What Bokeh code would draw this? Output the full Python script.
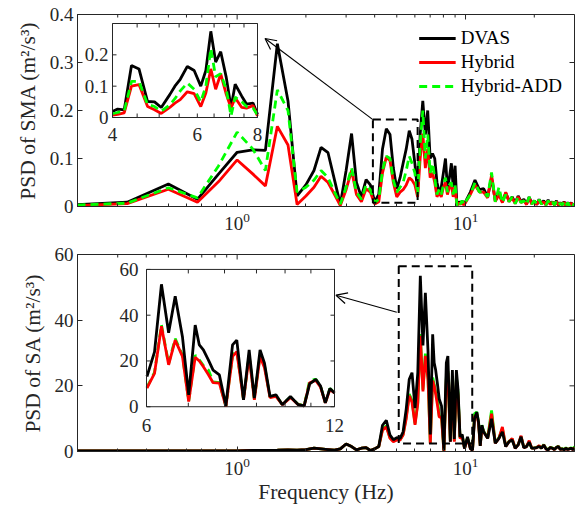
import math
from bokeh.plotting import figure
from bokeh.layouts import column
from bokeh.models import (Range1d, LogScale, LinearScale, FixedTicker, Legend, LegendItem,
                          Arrow, OpenHead)
from bokeh.core.properties import value
from bokeh.embed import file_html
from bokeh.resources import INLINE

# ---------------- data ----------------
freq_lim = [0.2, 30]
decade_ticks = [1, 10]
minor_freq_ticks = [0.2, 0.3, 0.4, 0.5, 0.6, 0.7, 0.8, 0.9, 2, 3, 4, 5, 6, 7, 8, 9, 20, 30]

# PSD of SMA (upper panel)
sma_freq = ([0.2, 0.33, 0.5, 0.67, 0.83, 1.0, 1.17, 1.33, 1.5, 1.67, 1.83, 2.0, 2.17, 2.33, 2.5,
             2.67, 2.83, 3.0, 3.17, 3.33, 3.5, 3.67, 3.83]
            + [4.0, 4.17, 4.33, 4.5, 4.67, 4.83, 5.0, 5.17, 5.33, 5.5, 5.67, 5.83, 6.0, 6.17, 6.33,
               6.5, 6.67, 6.83, 7.0, 7.17, 7.33, 7.5, 7.67, 7.83, 8.0, 8.17, 8.33, 8.5, 8.67, 8.83,
               9.0, 9.17, 9.33, 9.5, 9.67, 9.83, 10.0]
            + [10.5, 11.0, 11.5, 12.0, 12.5, 13.0, 13.5, 14.0, 14.5, 15.0, 15.5, 16.0, 16.5, 17.0,
               17.5, 18.0, 18.5, 19.0, 19.5, 20.0, 20.5, 21.0, 21.5, 22.0, 22.5, 23.0, 23.5, 24.0,
               24.5, 25.0, 25.5, 26.0, 26.5, 27.0, 27.5, 28.0, 28.5, 29.0, 29.5, 30.0])
sma_dvas = ([0.004, 0.009, 0.047, 0.015, 0.068, 0.113, 0.118, 0.117, 0.339, 0.22, 0.022, 0.045,
             0.075, 0.123, 0.112, 0.055, 0.004, 0.075, 0.152, 0.05, 0.02, 0.056, 0.045]
            + [0.01, 0.025, 0.12, 0.162, 0.15, 0.08, 0.037, 0.06, 0.09, 0.12, 0.158, 0.14, 0.09,
               0.03, 0.15, 0.22, 0.15, 0.2, 0.1, 0.11, 0.1, 0.05, 0.03, 0.04, 0.07, 0.1, 0.04, 0.06,
               0.09, 0.04, 0.085, 0.003, 0.01, 0.005, 0.012, 0.004, 0.01]
            + [0.03, 0.055, 0.035, 0.037, 0.02, 0.06, 0.012, 0.03, 0.01, 0.028,
               0.012, 0.02, 0.008, 0.022, 0.01, 0.015, 0.005, 0.02, 0.006, 0.012,
               0.004, 0.015, 0.006, 0.012, 0.004, 0.014, 0.005, 0.01, 0.004, 0.012,
               0.003, 0.008, 0.004, 0.01, 0.003, 0.008, 0.003, 0.008, 0.002, 0.006])
sma_hybrid = ([0.002, 0.006, 0.036, 0.009, 0.052, 0.097, 0.068, 0.043, 0.167, 0.128, 0.004, 0.022,
               0.04, 0.063, 0.05, 0.025, 0.002, 0.035, 0.075, 0.025, 0.01, 0.037, 0.03]
              + [0.005, 0.01, 0.07, 0.103, 0.095, 0.05, 0.02, 0.03, 0.035, 0.045,
                 0.06, 0.055, 0.045, 0.02, 0.1, 0.152, 0.08, 0.12, 0.06, 0.07,
                 0.05, 0.02, 0.03, 0.02, 0.04, 0.05, 0.025, 0.04, 0.045, 0.02,
                 0.04, 0.002, 0.008, 0.004, 0.01, 0.003, 0.008]
              + [0.025, 0.045, 0.03, 0.03, 0.018, 0.065, 0.01, 0.025, 0.008, 0.03,
                 0.01, 0.018, 0.006, 0.02, 0.008, 0.012, 0.004, 0.018, 0.005, 0.01,
                 0.004, 0.013, 0.005, 0.01, 0.003, 0.012, 0.004, 0.009, 0.003, 0.01,
                 0.003, 0.007, 0.003, 0.009, 0.002, 0.007, 0.002, 0.007, 0.002, 0.005])
sma_hybrid_add = ([0.003, 0.007, 0.039, 0.018, 0.085, 0.155, 0.12, 0.075, 0.243, 0.2, 0.03, 0.04,
                   0.055, 0.075, 0.06, 0.03, 0.005, 0.04, 0.08, 0.03, 0.015, 0.045, 0.035]
                  + [0.008, 0.015, 0.075, 0.105, 0.1, 0.055, 0.03, 0.04, 0.05, 0.075,
                     0.105, 0.09, 0.07, 0.025, 0.13, 0.2, 0.1, 0.15, 0.07, 0.09,
                     0.06, 0.025, 0.035, 0.025, 0.045, 0.06, 0.03, 0.045, 0.05, 0.025,
                     0.045, 0.002, 0.01, 0.005, 0.012, 0.004, 0.01]
                  + [0.025, 0.05, 0.03, 0.032, 0.02, 0.071, 0.01, 0.04, 0.008, 0.025,
                     0.01, 0.02, 0.006, 0.02, 0.008, 0.012, 0.004, 0.02, 0.005, 0.012,
                     0.004, 0.014, 0.005, 0.01, 0.003, 0.012, 0.004, 0.009, 0.003, 0.011,
                     0.003, 0.007, 0.003, 0.01, 0.002, 0.008, 0.002, 0.008, 0.002, 0.006])

# finer SMA spectrum shown in the 4-8 Hz zoom
sma_zoom_freq = [4.0, 4.1, 4.23, 4.38, 4.54, 4.73, 4.89, 5.05, 5.26, 5.39, 5.53, 5.72, 5.91,
                 6.10, 6.25, 6.40, 6.55, 6.71, 6.89, 7.05, 7.19, 7.42, 7.59, 7.83, 8.0]
sma_zoom_dvas = [0.019, 0.027, 0.024, 0.166, 0.155, 0.051, 0.050, 0.032, 0.073, 0.10, 0.122,
                 0.163, 0.150, 0.10, 0.15, 0.275, 0.177, 0.21, 0.128, 0.032, 0.106, 0.068,
                 0.043, 0.046, 0.01]
sma_zoom_hybrid = [0.008, 0.01, 0.015, 0.10, 0.105, 0.035, 0.025, 0.013, 0.032, 0.046, 0.057,
                   0.082, 0.076, 0.035, 0.078, 0.155, 0.09, 0.139, 0.074, 0.03, 0.063, 0.032,
                   0.03, 0.038, 0.005]
sma_zoom_hybrid_add = [0.012, 0.016, 0.02, 0.115, 0.115, 0.042, 0.035, 0.02, 0.04, 0.06, 0.085,
                       0.11, 0.09, 0.05, 0.1, 0.22, 0.13, 0.14, 0.09, 0.005, 0.065, 0.05, 0.035,
                       0.03, 0.008]

# PSD of SA (lower panel)
sa_freq = ([0.2, 0.33, 0.5, 0.67, 0.83, 1.0, 1.17, 1.33, 1.5, 1.67, 1.83, 2.0, 2.17, 2.33, 2.5,
            2.67, 2.83, 3.0, 3.17, 3.33, 3.5, 3.67, 3.83, 4.0, 4.17, 4.33, 4.5, 4.67, 4.83, 5.0,
            5.17, 5.33, 5.5, 5.67, 5.83]
           + [6.01, 6.18, 6.34, 6.51, 6.67, 6.85, 7.01, 7.18, 7.29, 7.40, 7.54, 7.67, 7.85, 8.04,
              8.24, 8.37, 8.58, 8.76, 8.93, 9.12, 9.27, 9.46, 9.67, 9.90, 10.2, 10.5, 10.73,
              10.95, 11.2, 11.4, 11.6, 11.8, 12.0]
           + [12.5, 13.0, 13.5, 14.0, 14.5, 15.0, 15.5, 16.0, 16.5, 17.0, 17.5, 18.0, 18.5, 19.0,
              19.5, 20.0, 20.5, 21.0, 21.5, 22.0, 22.5, 23.0, 23.5, 24.0, 24.5, 25.0, 25.5, 26.0,
              26.5, 27.0, 27.5, 28.0, 28.5, 29.0, 29.5, 30.0])
sa_dvas = ([0.2, 0.2, 0.2, 0.2, 0.2, 0.2, 0.3, 0.3, 0.4, 0.5, 0.4, 0.6, 1.0, 0.8, 0.6, 0.4, 0.8,
            2.3, 1.5, 0.5, 1.0, 1.2, 0.3, 0.8, 1.5, 8.0, 9.5, 5.0, 3.6, 4.2, 4.0, 6.0, 13.0,
            22.0, 24.0]
           + [13.2, 24.0, 53.5, 32.3, 48.3, 30.6, 5.2, 35.7, 27.0, 24.8, 20.4, 16.0, 13.9, 0.4,
              27.0, 29.1, 3.0, 24.8, 3.8, 24.8, 19.0, 4.5, 5.2, 0.9, 4.5, 0.9, 0.4, 10.0, 12.0,
              9.0, 1.7, 8.0, 6.0]
           + [4.0, 10.0, 2.5, 4.0, 6.0, 1.5, 3.0, 3.5, 1.0, 2.0, 4.5, 1.2, 1.5, 2.8, 1.0, 1.0,
              1.2, 1.5, 1.0, 2.0, 0.8, 0.5, 1.2, 1.0, 0.6, 1.2, 1.5, 0.6, 0.8, 0.5, 1.0, 0.6,
              0.8, 1.0, 0.6, 1.0])
sa_hybrid = ([0.2, 0.2, 0.2, 0.2, 0.2, 0.2, 0.3, 0.3, 0.4, 0.5, 0.4, 0.6, 1.0, 0.8, 0.6, 0.4,
              0.8, 2.3, 1.5, 0.5, 1.0, 1.2, 0.3, 0.8, 1.5, 6.5, 7.5, 4.0, 3.0, 3.5, 3.5, 5.0,
              10.0, 17.0, 15.0]
             + [8.1, 14.6, 35.2, 18.3, 29.1, 22.0, 2.3, 21.6, 20.0, 17.5, 14.0, 10.5, 10.3, 0.0,
                22.0, 24.0, 3.0, 22.0, 3.0, 22.0, 17.0, 4.0, 4.5, 0.9, 4.0, 0.9, 0.4, 10.5, 11.5,
                8.5, 1.7, 7.5, 6.0]
             + [4.0, 11.5, 2.5, 4.0, 7.5, 1.5, 3.0, 4.0, 1.0, 2.0, 4.8, 1.2, 1.5, 3.3, 1.0, 1.0,
                1.2, 1.8, 1.0, 2.0, 0.8, 0.5, 1.2, 1.0, 0.6, 1.2, 1.5, 0.6, 0.8, 0.5, 1.0, 0.6,
                0.8, 1.0, 0.6, 1.2])
sa_hybrid_add = ([0.2, 0.2, 0.2, 0.2, 0.2, 0.2, 0.3, 0.3, 0.4, 0.5, 0.4, 0.6, 1.0, 0.8, 0.6, 0.4,
                  0.8, 2.3, 1.5, 0.5, 1.0, 1.2, 0.3, 0.8, 1.5, 6.8, 7.8, 4.2, 3.2, 3.6, 3.6, 5.2,
                  10.5, 17.5, 15.5]
                 + [8.5, 15.0, 35.8, 18.8, 29.8, 22.5, 2.5, 22.5, 20.5, 18.0, 16.0, 10.8, 10.5,
                    0.2, 22.5, 24.5, 3.2, 22.5, 3.2, 22.8, 18.0, 4.2, 4.8, 1.0, 4.2, 1.0, 0.5,
                    11.5, 12.0, 9.0, 1.8, 8.0, 6.2]
                 + [4.2, 12.5, 2.6, 4.2, 7.0, 1.6, 3.1, 3.8, 1.1, 2.1, 4.6, 1.3, 1.6, 3.0, 1.0,
                    1.1, 1.3, 1.7, 1.0, 2.1, 0.9, 0.6, 1.3, 1.1, 0.7, 1.3, 1.6, 0.7, 0.9, 0.6, 1.1,
                    0.7, 0.9, 1.1, 0.7, 1.5])

series_names = ["DVAS", "Hybrid", "Hybrid-ADD"]

sma_ticks = [0, 0.1, 0.2, 0.3, 0.4]
sma_tick_labels = ["0", "0.1", "0.2", "0.3", "0.4"]
sa_ticks = [0, 20, 40, 60]
sa_tick_labels = ["0", "20", "40", "60"]

sma_zoom_f = [4, 8]
sma_zoom_v = [0, 0.3]
sma_zoom_xticks = [4, 6, 8]
sma_zoom_xlabels = ["4", "6", "8"]
sma_zoom_xminor = [4.5, 5, 5.5, 6.5, 7, 7.5]
sma_zoom_yticks = [0, 0.1, 0.2]
sma_zoom_ylabels = ["0", "0.1", "0.2"]

sa_zoom_f = [6, 12]
sa_zoom_v = [0, 60]
sa_zoom_xticks = [6, 12]
sa_zoom_xlabels = ["6", "12"]
sa_zoom_xminor = [7, 8, 9, 10, 11]
sa_zoom_yticks = [0, 20, 40, 60]
sa_zoom_ylabels = ["0", "20", "40", "60"]

# highlighted regions and pointer arrows (frequency, value)
sma_box_f, sma_box_v = [3.93, 6.17], [0.008, 0.181]
sma_arrow = [(3.93, 0.181), (1.325, 0.35)]
sa_box_f, sa_box_v = [5.1, 10.7], [2.4, 56.4]
sa_arrow = [(5.0, 42.4), (2.71, 47.6)]

# ---------------- style ----------------
FONT = "Liberation Serif"
INK = "#262626"
FS = "19px"
FS_LABEL = "21.5px"
COLORS = ["#000000", "#ff0000", "#00ff00"]
DASHES = ["solid", "solid", "8 5"]
LW = 2.8
W = 579
FRAME_L, FRAME_R = 77, 574


def style_axis(ax):
    ax.axis_line_color = INK
    ax.axis_line_width = 1
    ax.major_tick_in = 5
    ax.major_tick_out = 0
    ax.minor_tick_in = 3
    ax.minor_tick_out = 0
    ax.major_tick_line_color = INK
    ax.minor_tick_line_color = INK
    ax.major_label_text_font = FONT
    ax.major_label_text_color = INK
    ax.major_label_text_font_size = FS
    ax.axis_label_text_font = FONT
    ax.axis_label_text_font_size = FS_LABEL
    ax.axis_label_text_font_style = "normal"
    ax.axis_label_text_color = INK


def mirror_ticks(p, y_ticks):
    """Inward tick marks on the top and right edges of the frame."""
    x1 = freq_lim[1]
    y1 = y_ticks[-1]
    kw = dict(length_units="screen", line_color=INK, line_width=1)
    p.ray(x=decade_ticks, y=[y1] * len(decade_ticks), length=5, angle=-math.pi / 2, **kw)
    p.ray(x=minor_freq_ticks, y=[y1] * len(minor_freq_ticks), length=3, angle=-math.pi / 2, **kw)
    p.ray(x=[x1] * len(y_ticks), y=y_ticks, length=5, angle=math.pi, **kw)


def panel(height, border_top, border_bottom, y_ticks, y_labels, y_label, x_label=None):
    p = figure(width=W, height=height, x_axis_type="log",
               x_range=Range1d(freq_lim[0], freq_lim[1]),
               y_range=Range1d(y_ticks[0], y_ticks[-1]),
               output_backend="svg", toolbar_location=None,
               min_border_left=FRAME_L, min_border_right=W - FRAME_R,
               min_border_top=border_top, min_border_bottom=border_bottom)
    p.grid.visible = False
    p.outline_line_color = INK
    p.background_fill_color = "white"
    p.border_fill_color = "white"
    p.xaxis.ticker = FixedTicker(ticks=decade_ticks, minor_ticks=minor_freq_ticks)
    p.yaxis.ticker = FixedTicker(ticks=y_ticks, minor_ticks=[])
    p.yaxis.major_label_overrides = {t: l for t, l in zip(y_ticks, y_labels)}
    for ax in p.xaxis + p.yaxis:
        style_axis(ax)
    p.xaxis.major_label_standoff = 6
    p.yaxis.major_label_standoff = 4
    p.yaxis.axis_label = y_label
    p.yaxis.axis_label_standoff = 7
    if x_label:
        p.xaxis.axis_label = x_label
        p.xaxis.axis_label_standoff = 2
    mirror_ticks(p, y_ticks)
    return p


def inset(p, name, box, frame, f_lim, v_lim, xticks, xlabels, xminor, yticks, ylabels,
          series, order, xgap, ygap):
    l, r, t, b = box
    fl, fr, ft, fb = frame
    dec = (math.log10(f_lim[1]) - math.log10(f_lim[0])) / (r - l)
    xs = 10 ** (math.log10(f_lim[0]) - (l - fl) * dec)
    xe = 10 ** (math.log10(f_lim[1]) + (fr - r) * dec)
    vpp = (v_lim[1] - v_lim[0]) / (b - t)
    ys = v_lim[0] - (fb - b) * vpp
    ye = v_lim[1] + (t - ft) * vpp
    p.extra_x_ranges = {**p.extra_x_ranges, name: Range1d(xs, xe)}
    p.extra_x_scales = {**p.extra_x_scales, name: LogScale()}
    p.extra_y_ranges = {**p.extra_y_ranges, name: Range1d(ys, ye)}
    p.extra_y_scales = {**p.extra_y_scales, name: LinearScale()}
    kw = dict(x_range_name=name, y_range_name=name)
    p.quad(left=[f_lim[0]], right=[f_lim[1]], bottom=[v_lim[0]], top=[v_lim[1]],
           fill_color="white", line_color=None, **kw)
    for i in order:
        f, v = series[i]
        pts = [(a, c) for a, c in zip(f, v) if f_lim[0] <= a <= f_lim[1]]
        p.line([a for a, _ in pts], [c for _, c in pts], line_color=COLORS[i],
               line_width=LW, line_dash=DASHES[i], **kw)
    p.quad(left=[f_lim[0]], right=[f_lim[1]], bottom=[v_lim[0]], top=[v_lim[1]],
           fill_color=None, line_color=INK, line_width=1, **kw)
    allx = xticks + xminor
    tick_kw = dict(length_units="screen", line_color=INK, line_width=1, **kw)
    p.ray(x=allx, y=[v_lim[0]] * len(allx), length=4, angle=math.pi / 2, **tick_kw)
    p.ray(x=allx, y=[v_lim[1]] * len(allx), length=4, angle=-math.pi / 2, **tick_kw)
    p.ray(x=[f_lim[0]] * len(yticks), y=yticks, length=4, angle=0, **tick_kw)
    p.ray(x=[f_lim[1]] * len(yticks), y=yticks, length=4, angle=math.pi, **tick_kw)
    txt = dict(text_font=value(FONT), text_font_size=FS, text_color=INK, **kw)
    p.text(x=xticks, y=[v_lim[0]] * len(xticks), text=xlabels, text_align="center",
           text_baseline="top", y_offset=xgap, **txt)
    p.text(x=[f_lim[0]] * len(yticks), y=yticks, text=ylabels, text_align="right",
           text_baseline="middle", x_offset=-ygap, **txt)


def highlight(p, box_f, box_v, arrow):
    p.quad(left=[box_f[0]], right=[box_f[1]], bottom=[box_v[0]], top=[box_v[1]],
           fill_color=None, line_color="black", line_width=2, line_dash="8 5")
    (x0, y0), (x1, y1) = arrow
    p.add_layout(Arrow(end=OpenHead(size=11, line_width=1.2, line_color="black"),
                       x_start=x0, y_start=y0, x_end=x1, y_end=y1,
                       line_width=1.1, line_color="black"))


# ---------------- upper panel: SMA ----------------
p1 = panel(240, 14, 34, sma_ticks, sma_tick_labels, "PSD of SMA (m\u00b2/s\u00b3)")
sma_series = [sma_dvas, sma_hybrid, sma_hybrid_add]
renderers = []
for i in [0, 1, 2]:
    renderers.append(p1.line(sma_freq, sma_series[i], line_color=COLORS[i], line_width=LW,
                             line_dash=DASHES[i]))
highlight(p1, sma_box_f, sma_box_v, sma_arrow)
inset(p1, "sma_zoom", (112, 257, 23, 117), (FRAME_L, FRAME_R, 14, 206), sma_zoom_f, sma_zoom_v,
      sma_zoom_xticks, sma_zoom_xlabels, sma_zoom_xminor, sma_zoom_yticks, sma_zoom_ylabels,
      [(sma_zoom_freq, sma_zoom_dvas), (sma_zoom_freq, sma_zoom_hybrid),
       (sma_zoom_freq, sma_zoom_hybrid_add)], [0, 1, 2], 10, 4)

legend = Legend(items=[LegendItem(label=n, renderers=[r]) for n, r in zip(series_names, renderers)],
                location="top_right")
legend.label_text_font = FONT
legend.label_text_font_size = FS
legend.label_text_color = "black"
legend.background_fill_alpha = 0
legend.border_line_alpha = 0
legend.glyph_width = 37
legend.glyph_height = 24
legend.label_height = 24
legend.label_standoff = 5
legend.spacing = 0
legend.padding = 0
legend.margin = 12
p1.add_layout(legend)

# ---------------- lower panel: SA ----------------
p2 = panel(266, 14, 54, sa_ticks, sa_tick_labels, "PSD of SA (m\u00b2/s\u00b3)",
           x_label="Frequency (Hz)")
sa_series = [sa_dvas, sa_hybrid, sa_hybrid_add]
for i in [2, 1, 0]:
    p2.line(sa_freq, sa_series[i], line_color=COLORS[i], line_width=LW, line_dash="solid")
highlight(p2, sa_box_f, sa_box_v, sa_arrow)
inset(p2, "sa_zoom", (146, 334, 29, 167), (FRAME_L, FRAME_R, 14, 212), sa_zoom_f, sa_zoom_v,
      sa_zoom_xticks, sa_zoom_xlabels, sa_zoom_xminor, sa_zoom_yticks, sa_zoom_ylabels,
      [(sa_freq, s) for s in sa_series], [2, 1, 0], 12, 8)

layout = column(p1, p2)
open("out.html", "w").write(file_html(layout, INLINE))
